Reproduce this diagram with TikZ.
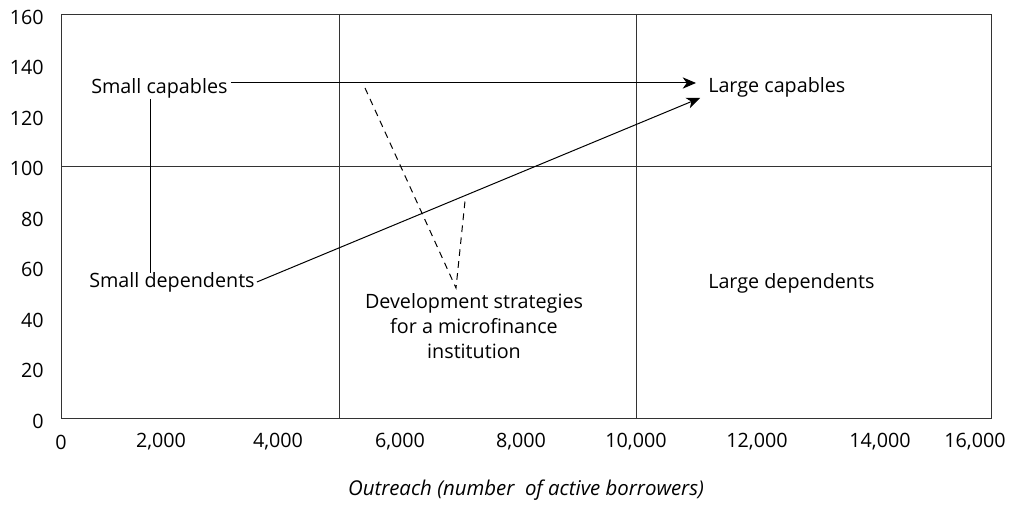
\documentclass[tikz,border=0pt]{standalone}
\usepackage{fontspec}
\setmainfont{Open Sans}
\usetikzlibrary{arrows.meta}
\begin{document}
\begin{tikzpicture}[x=0.75pt,y=-0.75pt,
  lbl/.style={inner sep=0pt,font=\fontsize{14.8}{18.75}\selectfont},
  grid/.style={line width=0.7pt,draw=black!80},
  conn/.style={line width=0.75pt},
  arr/.style={conn,-{Stealth[length=10pt,width=8.5pt,inset=3pt]}},
  dashline/.style={conn,dash pattern=on 5pt off 4pt}]
\useasboundingbox (0,0) rectangle (1016,505);
% frame and grid
\draw[grid] (61,14) rectangle (991,418);
\draw[grid] (61,166) -- (991,166);
\draw[grid] (339,14) -- (339,418);
\draw[grid] (636,14) -- (636,418);
% y ticks
\foreach \v [count=\i from 0] in {160,140,120,100,80,60,40,20,0}
  \node[lbl,anchor=east] (y\v) at (44,{17+50.5*\i}) {\v};
% x ticks
\foreach \v/\px [count=\i] in {0/61,2{,}000/161,4{,}000/278,6{,}000/400,8{,}000/521,10{,}000/636,12{,}000/757,14{,}000/880,16{,}000/975}
  \node[lbl] (x\i) at (\px,442) {\v};
\node[lbl,font=\fontsize{15.3}{18}\selectfont\itshape] (xt) at (526,490) {Outreach (number\ \ of active borrowers)};
% quadrant labels
\node[lbl,anchor=west] (sc) at (91,88) {Small capables};
\node[lbl,anchor=west] (sd) at (89,282) {Small dependents};
\node[lbl,anchor=west] (lc) at (708,87) {Large capables};
\node[lbl,anchor=west] (ld) at (708,283) {Large dependents};
\node[lbl,align=center] (dev) at (474,326) {Development strategies\\for a microfinance\\institution};
% coordinates
\coordinate (tipA) at (696,83);
\coordinate (tipB) at (700,98);
\coordinate (vtop) at (150,99);
\coordinate (vbot) at (150,273);
\coordinate (dA) at (365,88);
\coordinate (dV) at (456,288);
\coordinate (dB) at (465,201);
% connectors
\draw[arr] (sc.east |- tipA) ++(3,0) -- (tipA);
\draw[arr] (sd.east) ++(2,0) -- (tipB);
\draw[conn] (vtop) -- (vbot);
\draw[dashline] (dA) -- (dV) -- (dB);
\end{tikzpicture}
\end{document}
